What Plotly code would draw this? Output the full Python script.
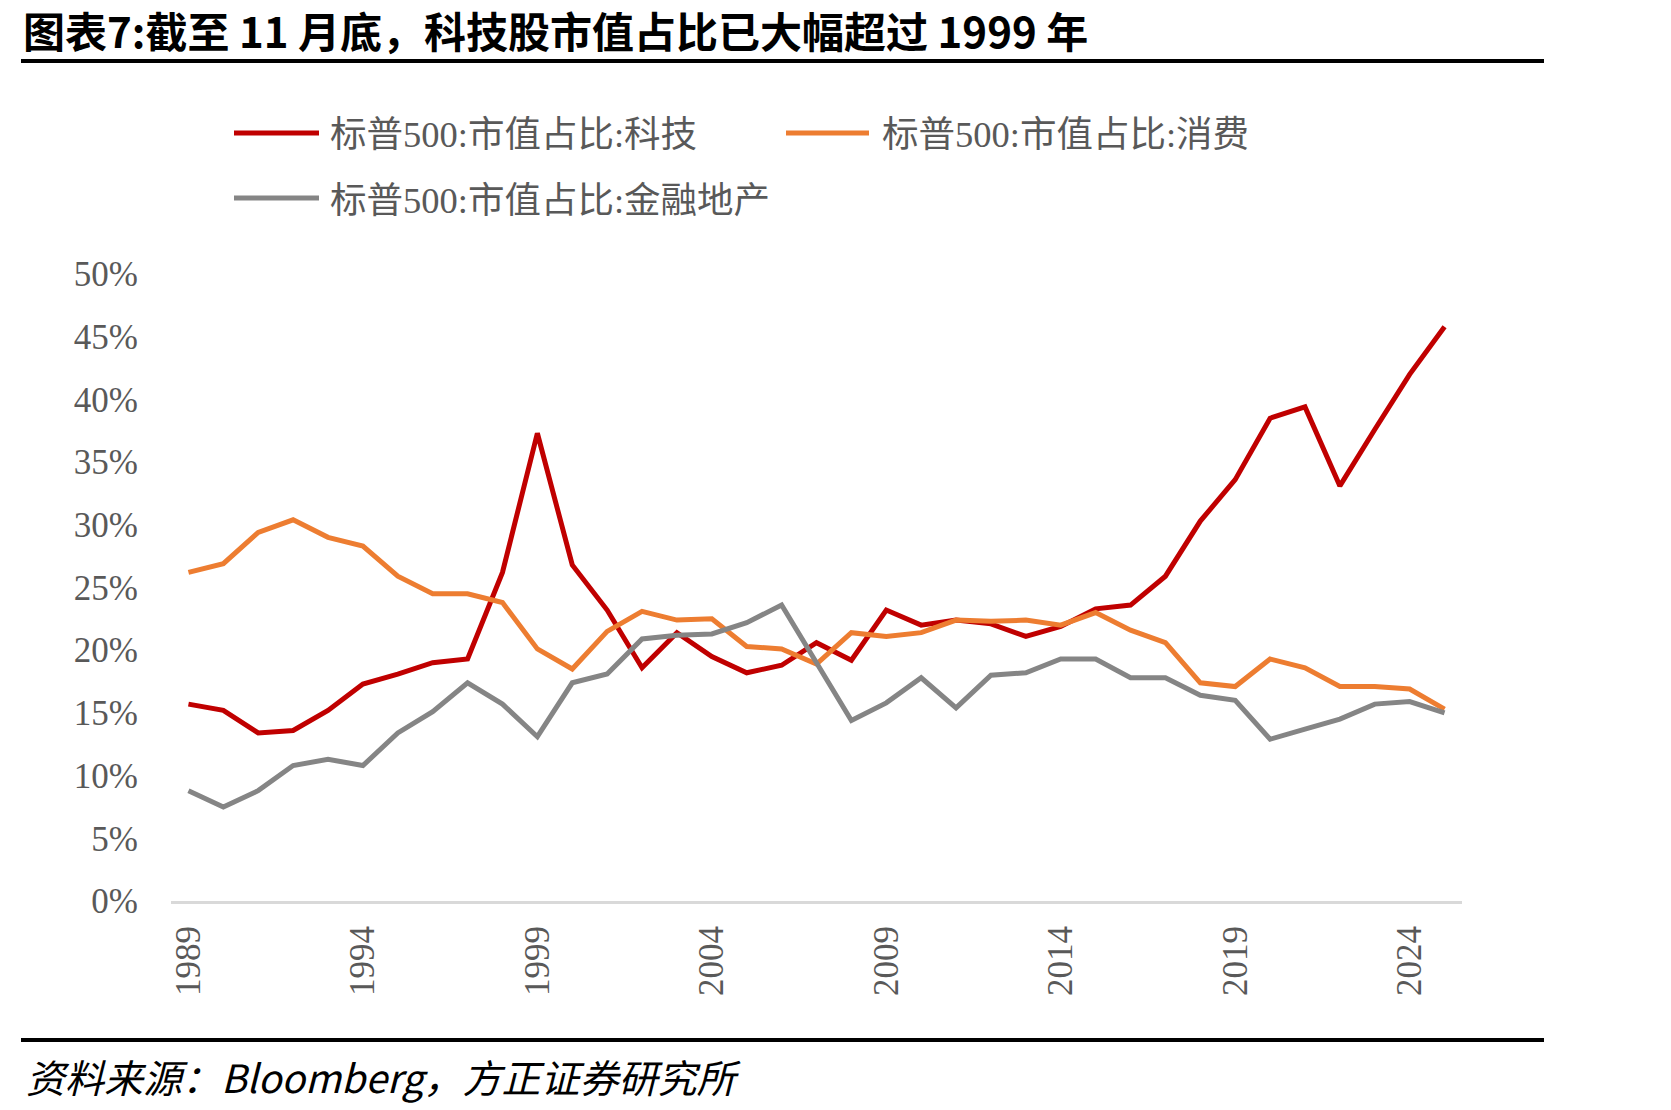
import plotly.graph_objects as go

years = list(range(1989, 2026))

tech = [15.7, 15.2, 13.4, 13.6, 15.2, 17.3, 18.1, 19.0, 19.3, 26.2, 37.3, 26.8, 23.2, 18.6, 21.4, 19.5, 18.2,
        18.8, 20.6, 19.2, 23.2, 22.0, 22.4, 22.1, 21.1, 21.9, 23.3, 23.6, 25.9, 30.3, 33.6, 38.5, 39.4, 33.1,
        37.6, 42.0, 45.8]
consumer = [26.2, 26.9, 29.4, 30.4, 29.0, 28.3, 25.9, 24.5, 24.5, 23.8, 20.1, 18.5, 21.5, 23.1, 22.4, 22.5,
            20.3, 20.1, 18.9, 21.4, 21.1, 21.4, 22.4, 22.3, 22.4, 22.0, 23.0, 21.6, 20.6, 17.4, 17.1, 19.3,
            18.6, 17.1, 17.1, 16.9, 15.3]
financial = [8.8, 7.5, 8.8, 10.8, 11.3, 10.8, 13.4, 15.1, 17.4, 15.7, 13.1, 17.4, 18.1, 20.9, 21.2, 21.3,
             22.2, 23.6, 19.0, 14.4, 15.8, 17.8, 15.4, 18.0, 18.2, 19.3, 19.3, 17.8, 17.8, 16.4, 16.0, 12.9,
             13.7, 14.5, 15.7, 15.9, 15.0]

series_names = ["标普500:市值占比:科技", "标普500:市值占比:消费", "标普500:市值占比:金融地产"]
series_colors = ["#C00000", "#ED7D31", "#858585"]
series_values = [tech, consumer, financial]

x_ticks = list(range(1989, 2025, 5))
y_ticks = list(range(0, 55, 5))
y_tick_labels = [f"{v}%" for v in y_ticks]

W, H = 1671, 1110
L, R, T, B = 171, 209, 274, 209
PW = W - L - R
PH = H - T - B


def px(xp):
    return (xp - L) / PW


def py(yp):
    return (H - B - yp) / PH


fig = go.Figure()
for name, color, vals in zip(series_names, series_colors, series_values):
    fig.add_trace(go.Scatter(x=years, y=vals, mode="lines", name=name,
                             line=dict(color=color, width=5), showlegend=False))

shapes = []
annotations = []

# title and rules
annotations.append(dict(text="图表7:截至 11 月底，科技股市值占比已大幅超过 1999 年", xref="paper", yref="paper",
                        x=px(21), y=py(29), xanchor="left", yanchor="middle", showarrow=False,
                        font=dict(family="Noto Sans CJK SC", size=42, color="#000000", weight="bold")))
shapes.append(dict(type="line", xref="paper", yref="paper", x0=px(21), x1=px(1544), y0=py(61), y1=py(61),
                   line=dict(color="#000000", width=4)))
shapes.append(dict(type="line", xref="paper", yref="paper", x0=px(21), x1=px(1544), y0=py(1040), y1=py(1040),
                   line=dict(color="#000000", width=4)))
annotations.append(dict(text="资料来源：Bloomberg，方正证券研究所", xref="paper", yref="paper",
                        x=px(24), y=py(1076), xanchor="left", yanchor="middle", showarrow=False,
                        font=dict(family="Noto Sans CJK SC", size=39, color="#000000", style="italic")))

# legend
legend_pos = [(234, 319, 328, 133), (786, 869, 880, 133), (234, 319, 328, 198)]
for (x0, x1, xt, yl), name, color in zip(legend_pos, series_names, series_colors):
    shapes.append(dict(type="line", xref="paper", yref="paper", x0=px(x0), x1=px(x1), y0=py(yl), y1=py(yl),
                       line=dict(color=color, width=5)))
    annotations.append(dict(text=name, xref="paper", yref="paper", x=px(xt), y=py(yl + 2),
                            xanchor="left", yanchor="middle", showarrow=False,
                            font=dict(family="Liberation Serif, Noto Sans CJK SC", size=36.5, color="#595959")))

fig.update_layout(
    width=W, height=H,
    margin=dict(l=L, r=R, t=T, b=B, pad=0),
    paper_bgcolor="white", plot_bgcolor="white",
    shapes=shapes, annotations=annotations,
    showlegend=False,
    xaxis=dict(range=[1988.5, 2025.5], tickmode="array", tickvals=x_ticks,
               ticktext=[str(v) for v in x_ticks], tickangle=-90, showgrid=False, zeroline=False,
               showline=True, linecolor="#D9D9D9", linewidth=3, ticks="", ticklabelstandoff=8,
               tickfont=dict(family="Liberation Serif", size=35, color="#595959")),
    yaxis=dict(range=[0, 50], tickmode="array", tickvals=y_ticks, ticktext=y_tick_labels,
               showgrid=False, zeroline=False, showline=False, ticks="", ticklabelstandoff=32,
               tickfont=dict(family="Liberation Serif", size=35, color="#595959")),
)

fig.write_html("out.html")
